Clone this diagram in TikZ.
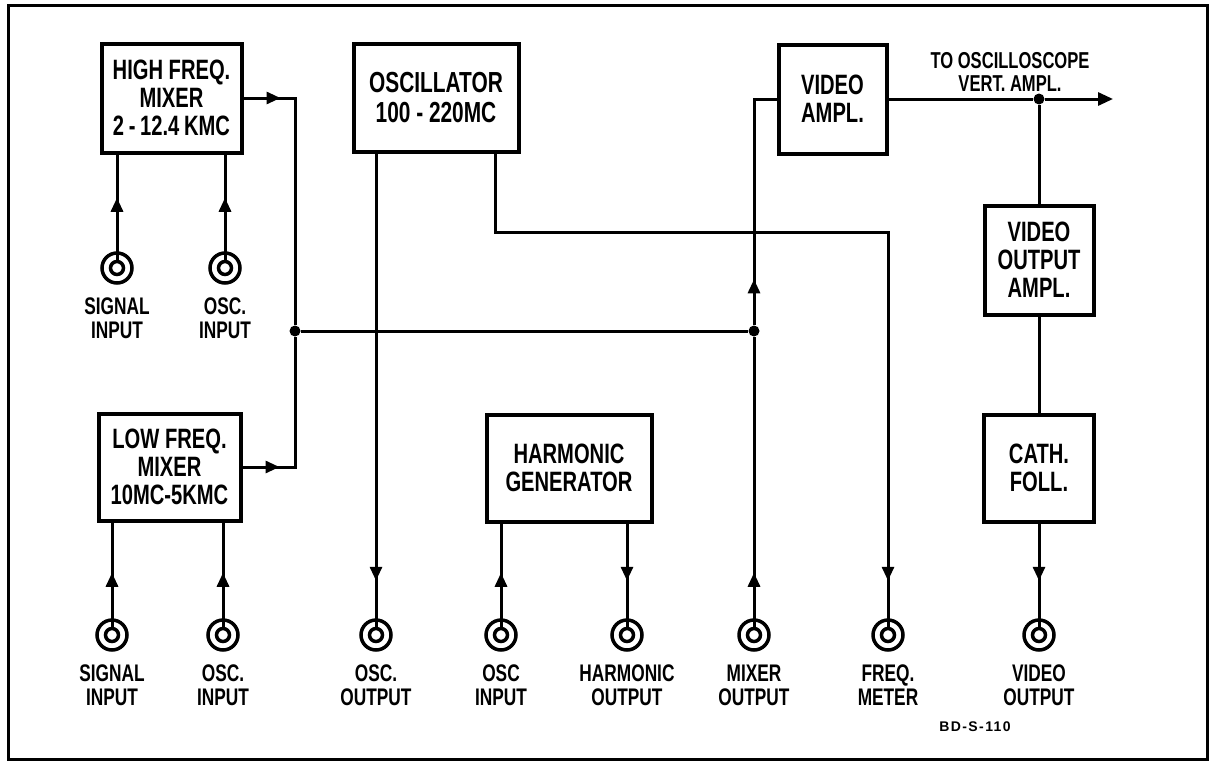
\documentclass[tikz,border=0pt]{standalone}
\usepackage{fontspec}
\setmainfont{Liberation Sans}[FakeStretch=0.72]
\newfontfamily\tagfont{Liberation Sans}[LetterSpace=10]
\usetikzlibrary{positioning, arrows.meta, decorations.markings}
\tikzset{
  block/.style={rectangle, draw=black, line width=4pt, align=center, inner sep=0pt, font=\bfseries\fontsize{28}{28}\selectfont},
  jack/.style={circle, draw=black, line width=3.5pt, minimum size=30pt, inner sep=0pt},
  jackin/.style={circle, draw=black, line width=3.5pt, minimum size=13pt, inner sep=0pt},
  jacklabel/.style={align=center, inner sep=0pt, font=\bfseries\fontsize{24}{24}\selectfont},
  wire/.style={line width=3pt},
  junction/.style={circle, fill=black, minimum size=11pt, inner sep=0pt},
  arrowat/.style={postaction={decorate}, decoration={markings, mark=at position #1 with {\arrow{Triangle[length=14pt, width=12pt]}}}}
}

\begin{document}
\begin{tikzpicture}[x=1pt, y=-1pt]
    \useasboundingbox (0,0) rectangle (1210,763);
    \draw[line width=3pt] (8,5) rectangle (1207,759);

    % blocks
    \node (hfmix) [block, minimum width=140pt, minimum height=109pt] at (171.5,98) {HIGH FREQ.\\MIXER\\2\,-\,12.4\,KMC};
    \node (lfmix) [block, minimum width=142pt, minimum height=107pt] at (169.5,467) {LOW FREQ.\\MIXER\\10MC-5KMC};
    \node (osc) [block, minimum width=165pt, minimum height=108pt, font=\bfseries\fontsize{29}{30}\selectfont] at (436,98) {OSCILLATOR\\100 - 220MC};
    \node (harmgen) [block, minimum width=165pt, minimum height=107pt] at (569,468) {HARMONIC\\GENERATOR};
    \node (vidamp) [block, minimum width=108pt, minimum height=109pt] at (832.5,99) {VIDEO\\AMPL.};
    \node (vidout) [block, minimum width=109pt, minimum height=109pt] at (1039,260) {VIDEO\\OUTPUT\\AMPL.};
    \node (cathfoll) [block, minimum width=110pt, minimum height=107pt] at (1039,468) {CATH.\\FOLL.};

    % jacks
    \foreach \n/\x/\y/\t in {sigH/117/268/{SIGNAL\\INPUT}, oscH/225/268/{OSC.\\INPUT},
        sigL/112/635/{SIGNAL\\INPUT}, oscL/223/635/{OSC.\\INPUT}, oscout/376/635/{OSC.\\OUTPUT},
        oscin/501/635/{OSC\\INPUT}, harmout/627/635/{HARMONIC\\OUTPUT}, mixout/754/635/{MIXER\\OUTPUT},
        freqm/888/635/{FREQ.\\METER}, vidjack/1039/635/{VIDEO\\OUTPUT}} {
        \node (\n) [jack] at (\x,\y) {};
        \node (\n-in) [jackin] at (\n) {};
        \node (\n-lbl) [jacklabel, below=13pt of \n] {\t};
    }

    % junctions
    \node (j1) [junction] at (295,331) {};
    \node (j2) [junction] at (754,331) {};
    \node (j3) [junction] at (1039,99) {};
    \coordinate (fbend) at (888,232);
    \coordinate (scopeout) at (1113,99);

    % mixers
    \draw[wire, arrowat=62pt] (sigH-in.north) -- (sigH-in.north |- hfmix.south);
    \draw[wire, arrowat=62pt] (oscH-in.north) -- (oscH-in.north |- hfmix.south);
    \draw[wire, arrowat=54pt] (sigL-in.north) -- (sigL-in.north |- lfmix.south);
    \draw[wire, arrowat=54pt] (oscL-in.north) -- (oscL-in.north |- lfmix.south);
    \draw[wire, arrowat=37pt] (hfmix.east) -| (j1);
    \draw[wire, arrowat=37pt] (lfmix.east) -| (j1);
    \draw[wire] (j1) -- (j2);
    \draw[wire, arrowat=54pt] (mixout-in.north) -- (j2);
    \draw[wire, arrowat=46pt] (j2) |- (vidamp.west);

    % oscillator and harmonic generator
    \draw[wire, arrowat=-46pt] (osc.south -| oscout) -- (oscout-in.north);
    \draw[wire, arrowat=-46pt] ([xshift=59pt]osc.south) |- (fbend) -- (freqm-in.north);
    \draw[wire, arrowat=54pt] (oscin-in.north) -- (oscin-in.north |- harmgen.south);
    \draw[wire, arrowat=-46pt] (harmgen.south -| harmout) -- (harmout-in.north);

    % video chain
    \draw[wire] (vidamp.east) -- (j3);
    \draw[wire, -{Triangle[length=15pt, width=13pt]}] (j3) -- (scopeout);
    \draw[wire] (j3) -- (vidout.north);
    \draw[wire] (vidout.south) -- (cathfoll.north);
    \draw[wire, arrowat=-46pt] (cathfoll.south) -- (vidjack-in.north);

    \node (scopelbl) [jacklabel, font=\bfseries\fontsize{23}{23}\selectfont] at (1010,72) {TO OSCILLOSCOPE\\VERT. AMPL.};
    \node (dwgno) [inner sep=0pt, font=\tagfont\bfseries\fontsize{14}{14}\selectfont] at (975,727) {BD-S-110};
\end{tikzpicture}
\end{document}
